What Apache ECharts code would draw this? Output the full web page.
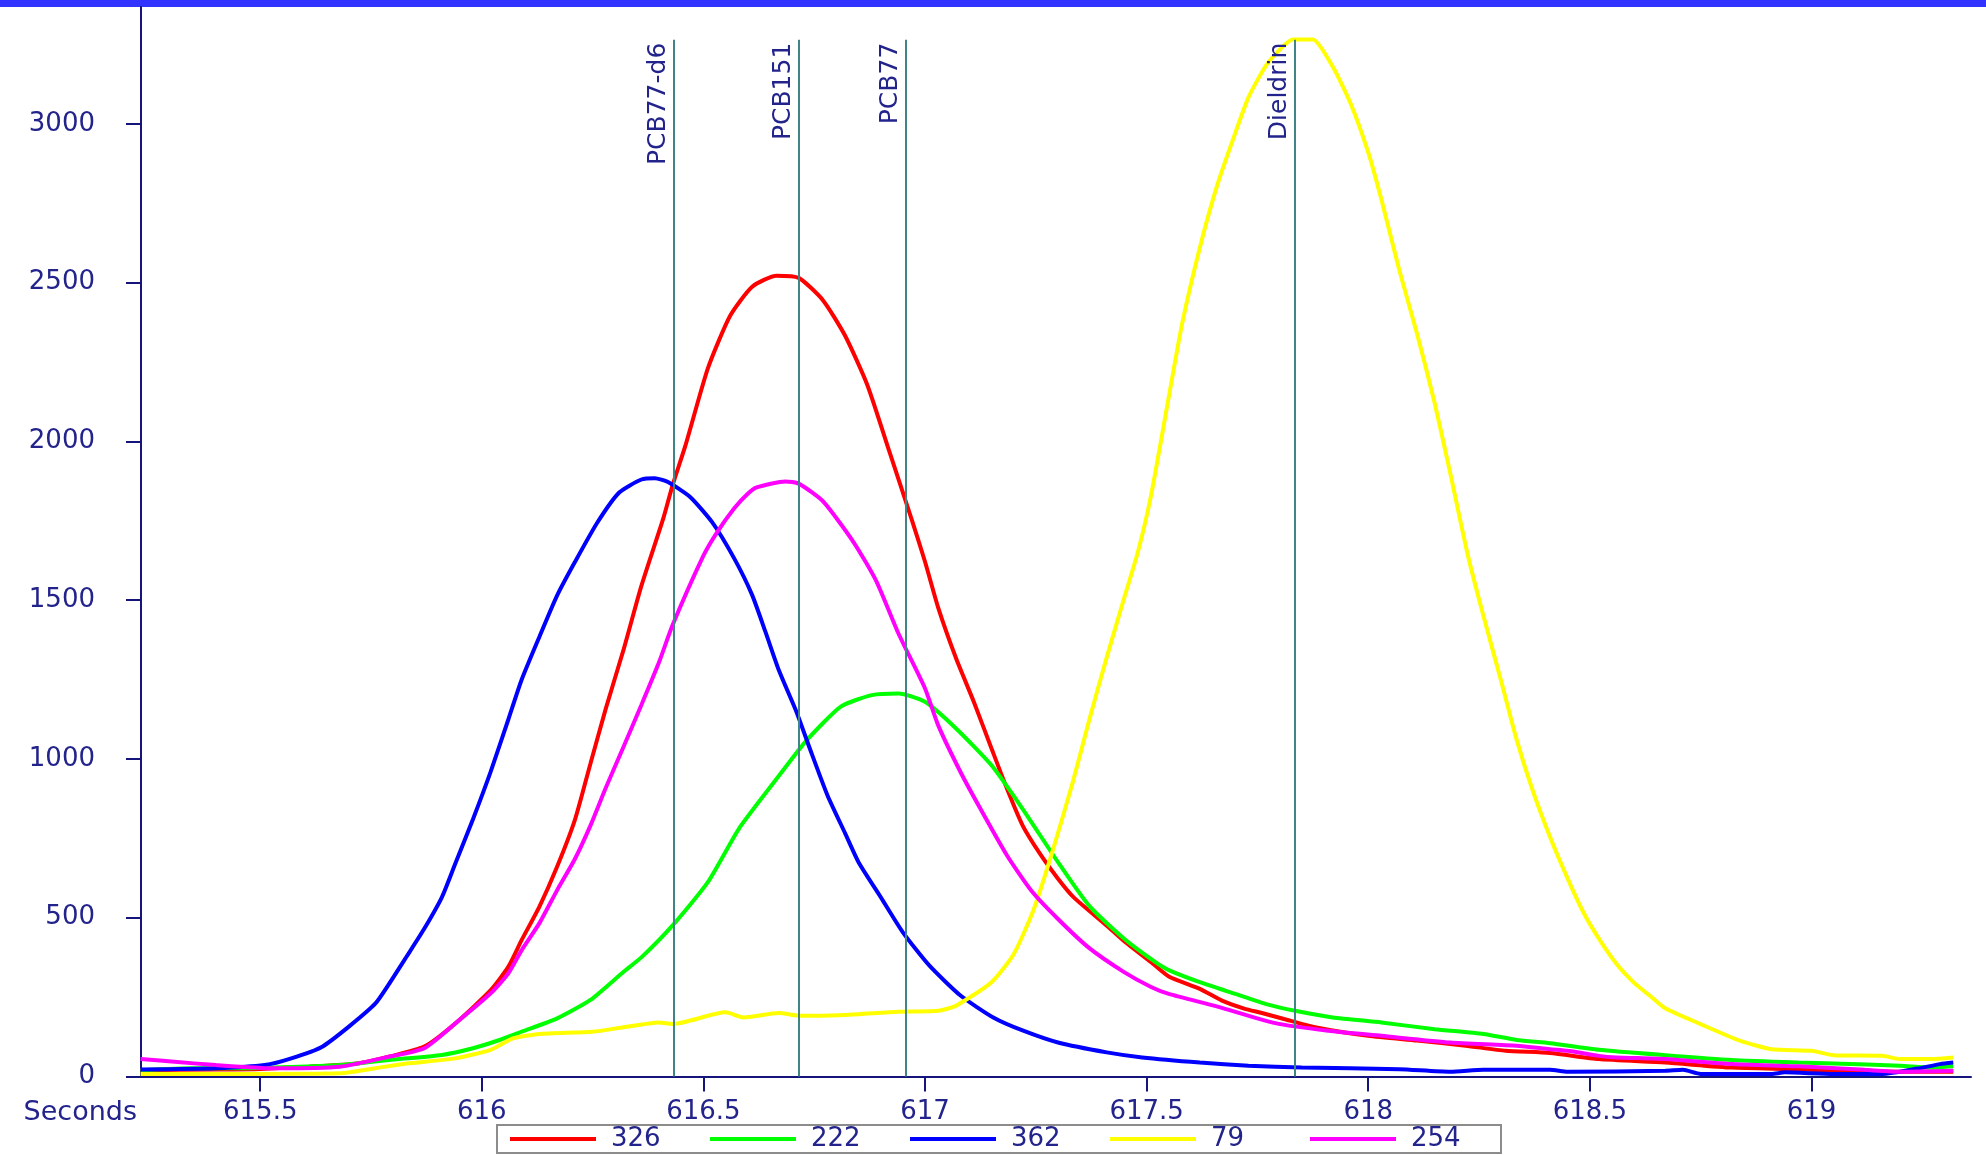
<!DOCTYPE html>
<html>
<head>
<meta charset="utf-8">
<title>Chromatogram</title>
<script src="https://cdn.jsdelivr.net/npm/echarts@6/dist/echarts.min.js"></script>
<style>
html, body { margin: 0; padding: 0; background: #fff; }
#chart { width: 1986px; height: 1155px; }
</style>
</head>
<body>
<div id="chart"></div>
<script>
// ion traces, [seconds, abundance]
var s326 = [[615.23,20],[615.40,22],[615.50,24],[615.61,31],[615.72,41],[615.79,62],[615.87,94],[615.94,167],[616.02,272],[616.06,346],[616.09,430],[616.13,535],[616.17,661],[616.21,808],[616.245,985],[616.28,1160],[616.32,1345],[616.36,1545],[616.41,1760],[616.43,1860],[616.46,1990],[616.51,2230],[616.56,2395],[616.61,2487],[616.665,2522],[616.715,2515],[616.77,2444],[616.82,2332],[616.87,2177],[616.92,1966],[616.97,1754],[617.00,1621],[617.03,1475],[617.07,1317],[617.11,1180],[617.15,1033],[617.185,906],[617.22,791],[617.26,700],[617.30,623],[617.335,565],[617.41,475],[617.45,425],[617.51,360],[617.55,315],[617.62,276],[617.67,239],[617.72,214],[617.76,200],[617.81,181],[617.88,155],[618.00,128],[618.11,113],[618.22,97],[618.31,81],[618.41,74],[618.52,55],[618.67,44],[618.82,28],[618.97,23],[619.05,18],[619.20,15],[619.32,15]];
var s222 = [[615.23,20],[615.35,26],[615.46,26],[615.68,36],[615.79,52],[615.91,68],[615.98,89],[616.04,115],[616.09,141],[616.17,183],[616.245,241],[616.32,330],[616.36,375],[616.43,475],[616.51,612],[616.58,780],[616.66,928],[616.73,1054],[616.81,1165],[616.88,1201],[616.94,1206],[617.00,1180],[617.07,1096],[617.15,980],[617.22,843],[617.30,675],[617.37,538],[617.45,433],[617.52,360],[617.55,335],[617.62,297],[617.70,260],[617.77,228],[617.835,207],[617.92,186],[618.03,170],[618.15,149],[618.26,134],[618.335,115],[618.41,105],[618.52,84],[618.67,67],[618.82,52],[618.97,44],[619.05,41],[619.20,34],[619.27,28],[619.32,32]];
var s362 = [[615.23,22],[615.40,26],[615.51,36],[615.57,57],[615.64,94],[615.70,157],[615.76,230],[615.79,290],[615.83,377],[615.87,465],[615.91,565],[615.94,670],[615.98,810],[616.02,960],[616.06,1125],[616.09,1250],[616.13,1385],[616.17,1515],[616.21,1620],[616.26,1743],[616.31,1839],[616.36,1880],[616.39,1884],[616.42,1872],[616.47,1825],[616.52,1745],[616.57,1630],[616.61,1516],[616.64,1400],[616.67,1280],[616.71,1148],[616.74,1033],[616.78,885],[616.82,765],[616.85,675],[616.90,565],[616.95,454],[617.01,349],[617.08,255],[617.155,185],[617.22,145],[617.30,107],[617.41,76],[617.49,60],[617.62,44],[617.73,34],[617.85,28],[618.07,23],[618.185,15],[618.26,21],[618.41,21],[618.45,15],[618.67,18],[618.71,21],[618.75,8],[618.91,8],[618.94,13],[619.05,8],[619.16,8],[619.24,25],[619.29,39],[619.32,44]];
var s79 = [[615.23,8],[615.45,8],[615.68,10],[615.76,26],[615.83,41],[615.94,57],[616.02,84],[616.07,120],[616.13,134],[616.25,141],[616.32,155],[616.40,170],[616.43,165],[616.55,202],[616.59,186],[616.67,200],[616.72,191],[616.82,194],[616.94,204],[617.03,207],[617.07,223],[617.15,297],[617.20,385],[617.245,525],[617.29,720],[617.335,935],[617.37,1120],[617.41,1320],[617.45,1510],[617.48,1650],[617.51,1830],[617.55,2140],[617.58,2370],[617.62,2610],[617.66,2810],[617.70,2971],[617.73,3084],[617.77,3185],[617.81,3247],[617.83,3266],[617.875,3266],[617.92,3180],[617.96,3065],[618.00,2910],[618.03,2760],[618.07,2540],[618.11,2340],[618.15,2120],[618.185,1900],[618.225,1640],[618.26,1450],[618.30,1245],[618.335,1060],[618.37,905],[618.41,755],[618.45,623],[618.485,518],[618.52,435],[618.56,355],[618.60,295],[618.635,255],[618.67,215],[618.75,165],[618.84,112],[618.91,86],[619.00,81],[619.05,67],[619.16,65],[619.20,55],[619.27,55],[619.32,60]];
var s254 = [[615.23,55],[615.30,47],[615.40,36],[615.53,26],[615.68,31],[615.79,62],[615.87,89],[615.94,167],[616.02,262],[616.06,325],[616.09,398],[616.13,483],[616.17,587],[616.21,685],[616.245,790],[616.28,910],[616.32,1039],[616.36,1170],[616.40,1305],[616.43,1420],[616.50,1640],[616.53,1712],[616.57,1790],[616.60,1835],[616.62,1855],[616.685,1874],[616.715,1867],[616.77,1811],[616.84,1680],[616.89,1560],[616.94,1395],[617.00,1222],[617.03,1105],[617.08,959],[617.125,843],[617.185,696],[617.24,585],[617.30,496],[617.37,405],[617.45,328],[617.51,282],[617.55,260],[617.66,220],[617.79,168],[617.91,144],[618.03,128],[618.185,107],[618.335,97],[618.41,86],[618.45,81],[618.52,65],[618.56,60],[618.67,55],[618.82,39],[618.97,32],[619.12,21],[619.20,15],[619.32,18]];

var seriesNames = ['326', '222', '362', '79', '254'];
var seriesColors = ['#ff0000', '#00ff00', '#0000ff', '#ffff00', '#ff00ff'];
var seriesData = [s326, s222, s362, s79, s254];

// compound markers
var markerNames = ['PCB77-d6', 'PCB151', 'PCB77', 'Dieldrin'];
var markerTimes = [616.433, 616.715, 616.956, 617.835];
var markerTop = 3265;

var xTicks = [615.5, 616, 616.5, 617, 617.5, 618, 618.5, 619];
var yTicks = [0, 500, 1000, 1500, 2000, 2500, 3000];

var navy = '#23238c';
var font = 'DejaVu Sans';

var myChart = echarts.init(document.getElementById('chart'));

var series = [{
    name: 'markers',
    type: 'line',
    data: [],
    z: 1,
    silent: true,
    markLine: {
        silent: true,
        symbol: ['none', 'none'],
        lineStyle: { color: '#3f8585', width: 2, type: 'solid' },
        label: {
            show: true,
            position: 'insideEndTop',
            formatter: '{b}',
            color: navy,
            fontFamily: font,
            fontSize: 25,
            distance: 3
        },
        data: markerTimes.map(function (t, i) {
            return [{ coord: [t, 0], name: markerNames[i] }, { coord: [t, markerTop] }];
        })
    }
}];
for (var i = 0; i < seriesNames.length; i++) {
    series.push({
        name: seriesNames[i],
        type: 'line',
        data: seriesData[i],
        z: 3,
        showSymbol: false,
        smooth: 0.2,
        color: seriesColors[i],
        lineStyle: { width: 4, color: seriesColors[i] }
    });
}

var option = {
    animation: false,
    backgroundColor: '#ffffff',
    graphic: [{
        type: 'rect',
        left: 0,
        top: 0,
        shape: { width: 1986, height: 7 },
        style: { fill: '#3333ff' }
    }],
    grid: { left: 141, right: 15, top: 7, bottom: 78.5 },
    legend: {
        data: seriesNames,
        left: 497,
        top: 1125,
        orient: 'horizontal',
        icon: 'rect',
        itemWidth: 86,
        itemHeight: 4,
        itemGap: 9,
        padding: [1, 0, 1, 13],
        borderColor: '#8c8c8c',
        borderWidth: 2,
        textStyle: {
            color: navy,
            fontFamily: font,
            fontSize: 26,
            width: 90,
            lineHeight: 26,
            padding: [0, 0, 0, 10]
        }
    },
    xAxis: {
        type: 'value',
        min: 615.231,
        max: 619.36,
        name: 'Seconds',
        nameLocation: 'start',
        nameGap: 4,
        nameTextStyle: {
            color: navy,
            fontFamily: font,
            fontSize: 27,
            align: 'right',
            verticalAlign: 'top',
            padding: [23, 0, 0, 0]
        },
        splitLine: { show: false },
        axisLine: { lineStyle: { color: '#14147a', width: 2 } },
        axisTick: { length: 15, customValues: xTicks, lineStyle: { color: '#14147a', width: 2 } },
        axisLabel: {
            customValues: xTicks,
            color: navy,
            fontFamily: font,
            fontSize: 26,
            margin: 23
        }
    },
    yAxis: {
        type: 'value',
        min: 0,
        max: 3368,
        splitLine: { show: false },
        axisLine: { show: true, lineStyle: { color: '#14147a', width: 2 } },
        axisTick: { show: true, length: 15, customValues: yTicks, lineStyle: { color: '#14147a', width: 2 } },
        axisLabel: {
            customValues: yTicks,
            formatter: function (v) { return String(v); },
            color: navy,
            fontFamily: font,
            fontSize: 26,
            margin: 46
        }
    },
    series: series
};

myChart.setOption(option);
</script>
</body>
</html>
